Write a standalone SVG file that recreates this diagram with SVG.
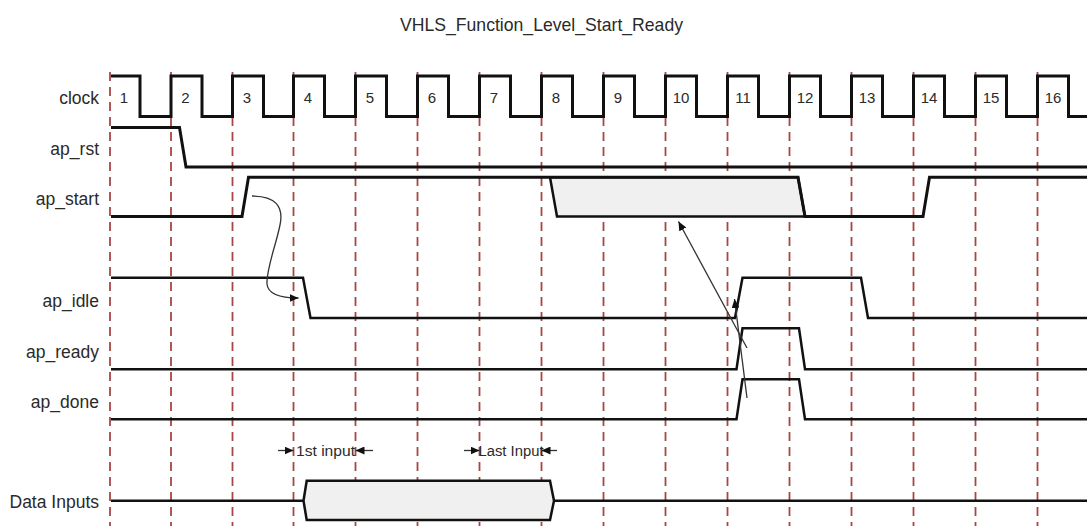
<svg xmlns="http://www.w3.org/2000/svg" width="1087" height="529" viewBox="0 0 1087 529">
<style>
text{font-family:"Liberation Sans",Arial,sans-serif;fill:#2a2a2a}
.lbl{font-size:17.5px;text-anchor:end}
.num{font-size:15px;text-anchor:middle}
.ann{font-size:15.5px}
.grid line{stroke:#a84646;stroke-width:1.8;stroke-dasharray:9 6}
.w{fill:none;stroke:#111;stroke-width:3;stroke-linejoin:miter}
.w2{fill:none;stroke:#111;stroke-width:2.5}
.bus{fill:#f0f0f0;stroke:#111;stroke-width:2.5}
.arr{fill:none;stroke:#333;stroke-width:1.3}
</style>
<defs>
<marker id="ah" viewBox="0 0 9 8" refX="9" refY="4" markerWidth="9" markerHeight="8" markerUnits="userSpaceOnUse" orient="auto">
<path d="M0,0 L9,4 L0,8 Z" fill="#111"/>
</marker>
</defs>
<rect width="1087" height="529" fill="#fff"/>
<text x="541.5" y="31" font-size="19" text-anchor="middle" textLength="283" lengthAdjust="spacingAndGlyphs">VHLS_Function_Level_Start_Ready</text>
<g class="grid" id="grid">
<line x1="110" y1="72" x2="110" y2="526"/>
<line x1="171" y1="72" x2="171" y2="526"/>
<line x1="232.5" y1="72" x2="232.5" y2="526"/>
<line x1="293.5" y1="72" x2="293.5" y2="526"/>
<line x1="355.5" y1="72" x2="355.5" y2="526"/>
<line x1="417.5" y1="72" x2="417.5" y2="526"/>
<line x1="479.5" y1="72" x2="479.5" y2="526"/>
<line x1="541.5" y1="72" x2="541.5" y2="526"/>
<line x1="603.5" y1="72" x2="603.5" y2="526"/>
<line x1="665.5" y1="72" x2="665.5" y2="526"/>
<line x1="727.5" y1="72" x2="727.5" y2="526"/>
<line x1="789.5" y1="72" x2="789.5" y2="526"/>
<line x1="851.5" y1="72" x2="851.5" y2="526"/>
<line x1="913.5" y1="72" x2="913.5" y2="526"/>
<line x1="975.5" y1="72" x2="975.5" y2="526"/>
<line x1="1037.5" y1="72" x2="1037.5" y2="526"/>
</g>
<g id="clock">
<text class="lbl" x="99" y="104">clock</text>
<path class="w" d="M111,76 H140 V116.5 H171 V76 H202 V116.5 H232.5 V76 H263.5 V116.5 H293.5 V76 H324.5 V116.5 H355.5 V76 H386.5 V116.5 H417.5 V76 H448.5 V116.5 H479.5 V76 H510.5 V116.5 H541.5 V76 H572.5 V116.5 H603.5 V76 H634.5 V116.5 H665.5 V76 H696.5 V116.5 H727.5 V76 H758.5 V116.5 H789.5 V76 H820.5 V116.5 H851.5 V76 H882.5 V116.5 H913.5 V76 H944.5 V116.5 H975.5 V76 H1006.5 V116.5 H1037.5 V76 H1068.5 V116.5 H1087"/>
<text class="num" x="124" y="103">1</text>
<text class="num" x="185.5" y="103">2</text>
<text class="num" x="247" y="103">3</text>
<text class="num" x="308" y="103">4</text>
<text class="num" x="370" y="103">5</text>
<text class="num" x="432" y="103">6</text>
<text class="num" x="494" y="103">7</text>
<text class="num" x="556" y="103">8</text>
<text class="num" x="618" y="103">9</text>
<text class="num" x="681" y="103">10</text>
<text class="num" x="743" y="103">11</text>
<text class="num" x="805" y="103">12</text>
<text class="num" x="867" y="103">13</text>
<text class="num" x="929" y="103">14</text>
<text class="num" x="991" y="103">15</text>
<text class="num" x="1053" y="103">16</text>
</g>
<g id="ap_rst">
<text class="lbl" x="99" y="155">ap_rst</text>
<path class="w" d="M111,127.5 H179.5 L186,167 H1087"/>
</g>
<g id="ap_start">
<text class="lbl" x="99" y="205">ap_start</text>
<path class="bus" d="M550,177.3 L557,216.5 H805 L798,177.3 Z" stroke-width="2.5"/>
<path class="w" d="M111,216.5 H242 L248.5,177.3 H798 L805,216.5 H923 L929.5,177.3 H1087"/>
</g>
<g id="ap_idle">
<text class="lbl" x="99" y="306.5">ap_idle</text>
<path class="w2" d="M111,277.7 H303 L310.5,318 H735 L742.5,277.7 H861 L868,318 H1087"/>
</g>
<g id="ap_ready">
<text class="lbl" x="99" y="358">ap_ready</text>
<path class="w2" d="M111,369.3 H736.5 L742.5,328.3 H799 L805,369.3 H1087"/>
</g>
<g id="ap_done">
<text class="lbl" x="99" y="408">ap_done</text>
<path class="w2" d="M111,419.3 H736.5 L742.5,379.3 H799 L805,419.3 H1087"/>
</g>
<g id="data_inputs">
<text class="lbl" x="99" y="508">Data Inputs</text>
<path class="w2" d="M111,500.7 H303.5 M554,500.7 H1087"/>
<path class="bus" d="M303.5,500.7 L306.7,480.8 H550 L554,500.7 L550,520 H306.7 Z"/>
</g>
<g id="first_input">
<text class="ann" x="296" y="455.5" textLength="59" lengthAdjust="spacingAndGlyphs">1st input</text>
</g>
<g id="last_input">
<text class="ann" x="478.5" y="455.5" textLength="65" lengthAdjust="spacingAndGlyphs">Last Input</text>
</g>
<g id="connectors">
<path class="arr" d="M252,196 C275,196 284,206 280,225 C276,245 266,270 267,284 C268,295 282,298 298.5,298" marker-end="url(#ah)"/>
<path class="arr" d="M747,348 L678.5,221.5" marker-end="url(#ah)"/>
<path class="arr" d="M747,398 L734.5,299" marker-end="url(#ah)"/>
<path class="arr" d="M278,450.5 H293.5" marker-end="url(#ah)"/>
<path class="arr" d="M373,450.5 H355.5" marker-end="url(#ah)"/>
<path class="arr" d="M464,450.5 H479.5" marker-end="url(#ah)"/>
<path class="arr" d="M557,450.5 H541.5" marker-end="url(#ah)"/>
</g>
</svg>
